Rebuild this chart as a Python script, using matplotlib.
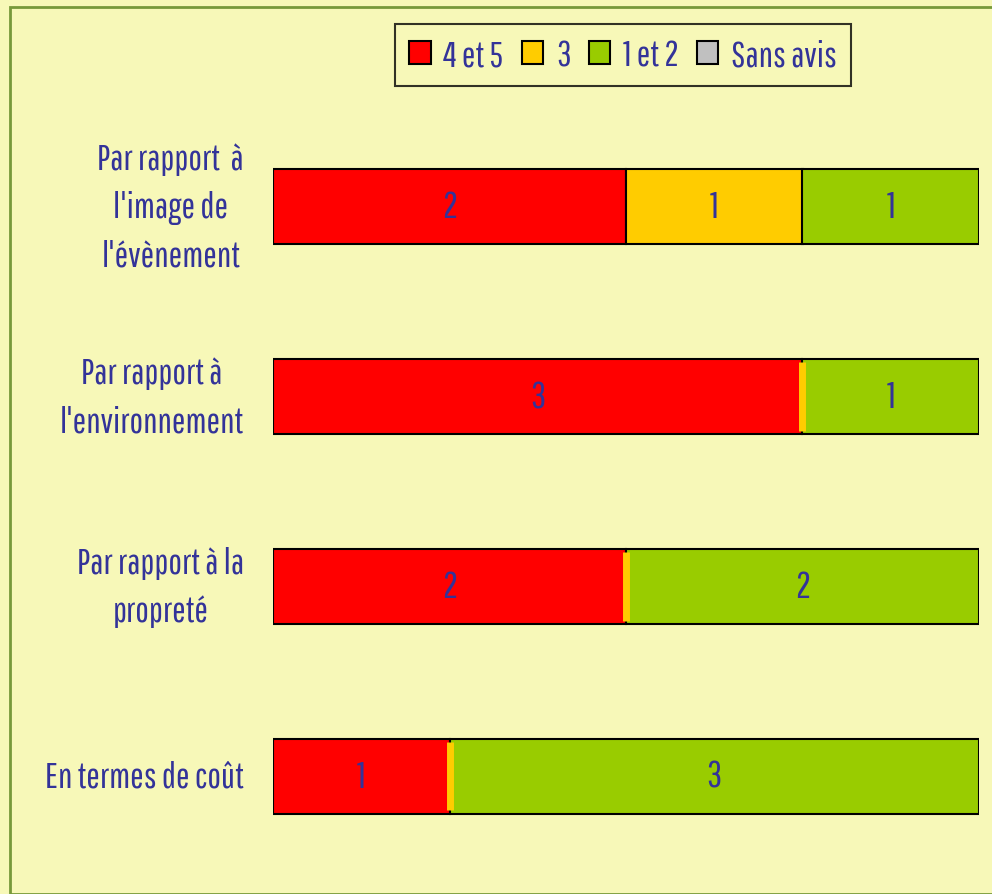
import matplotlib
matplotlib.use("Agg")
import matplotlib.pyplot as plt
from matplotlib.patches import Rectangle, Patch
import numpy as np

plt.rcParams['font.family'] = ['Pathway Gothic One', 'DejaVu Sans']

categories = ["Par rapport  à\nl'image de\nl'évènement",
              "Par rapport à\nl'environnement",
              "Par rapport à la\npropreté",
              "En termes de coût"]
series_names = ["4 et 5", "3", "1 et 2", "Sans avis"]
values = {
    "4 et 5":    [2, 3, 2, 1],
    "3":         [1, 0, 0, 0],
    "1 et 2":    [1, 1, 2, 3],
    "Sans avis": [0, 0, 0, 0],
}
colors = {"4 et 5": "#FF0000", "3": "#FFCC00", "1 et 2": "#99CC00", "Sans avis": "#C0C0C0"}

bg = "#F7F8B8"
txt_color = "#333399"

fig = plt.figure(figsize=(9.92, 8.95), dpi=100, facecolor=bg)
fig.patches.append(Rectangle((10/992, 0), 1, 1 - 8/895, transform=fig.transFigure,
                             fill=False, edgecolor="#77993A", linewidth=2, zorder=0))

ax = fig.add_axes([273/992, 1 - 872/895, (979 - 273)/992, (872 - 113)/895])
ax.set_facecolor(bg)

n = len(categories)
y = np.arange(n)
totals = np.sum([values[s] for s in series_names], axis=0)
left = np.zeros(n)
for s in series_names:
    v = np.array(values[s], dtype=float)
    frac = v / totals
    for i in range(n):
        if v[i] > 0:
            ax.barh(y[i], frac[i], left=left[i], height=0.395, color=colors[s],
                    edgecolor="black", linewidth=1.5, zorder=2)
            ax.text(left[i] + frac[i] / 2, y[i], f"{int(v[i])}", ha="center", va="center",
                    fontsize=27, color=txt_color, zorder=4)
        elif s != "Sans avis":
            ax.barh(y[i], frac[i], left=left[i], height=0.36, color=colors[s],
                    edgecolor=colors[s], linewidth=5, zorder=3)
    left += frac

ax.set_xlim(0, 1)
ax.set_ylim(n - 0.5, -0.5)
ax.set_yticks(y)
ax.set_yticklabels([])
ax.tick_params(axis="y", length=0)
ax.set_xticks([])
for sp in ax.spines.values():
    sp.set_visible(False)

for i, cat in enumerate(categories):
    ax.annotate(cat, xy=(0, y[i]), xycoords=("axes fraction", "data"),
                xytext=(-29, 0), textcoords="offset pixels",
                ha="right", va="center", multialignment="center",
                fontsize=26, color=txt_color, linespacing=1.55, annotation_clip=False)

handles = [Patch(facecolor=colors[s], edgecolor="black", linewidth=1.5) for s in series_names]
leg = fig.legend(handles, series_names, loc="center", bbox_to_anchor=(623/992, 1 - 56/895),
                 ncol=4, frameon=True, fontsize=26, handlelength=0.6, handleheight=0.6,
                 handletextpad=0.35, columnspacing=0.5, borderpad=0.4, borderaxespad=0,
                 fancybox=False, labelcolor=txt_color)
leg.get_frame().set_edgecolor("black")
leg.get_frame().set_linewidth(1.5)
leg.get_frame().set_facecolor(bg)

fig.savefig("out.png", facecolor=bg)
